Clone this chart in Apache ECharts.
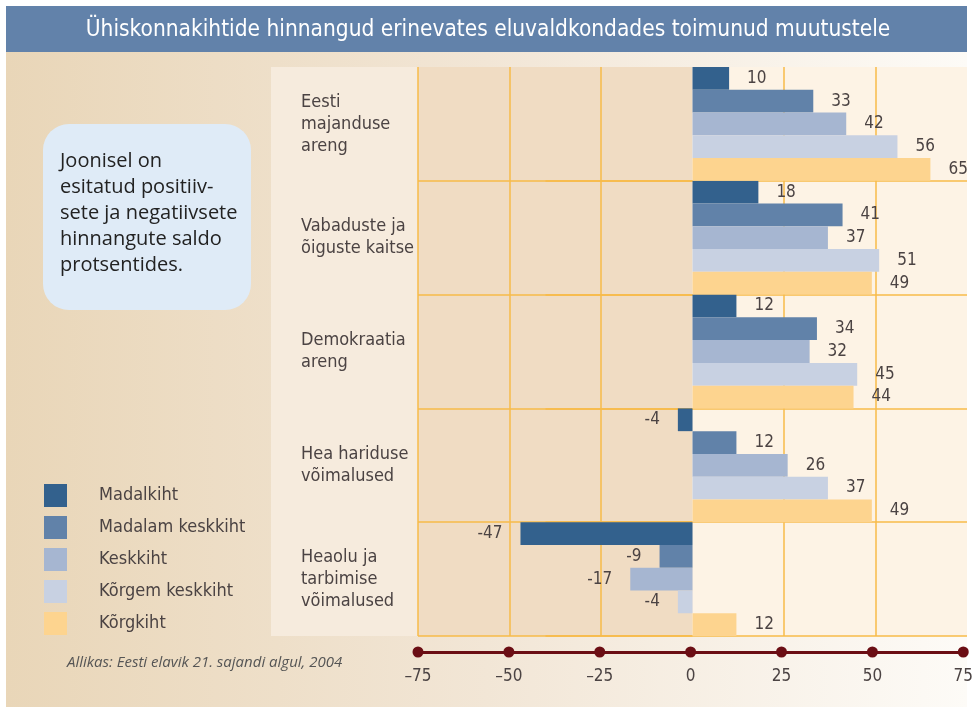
<!DOCTYPE html>
<html>
<head>
<meta charset="utf-8">
<script src="https://cdn.jsdelivr.net/npm/echarts@6/dist/echarts.min.js"></script>
<style>
  html, body { margin: 0; padding: 0; background: #fff; }
  #chart { width: 976px; height: 707px; }
</style>
</head>
<body>
<div id="chart"></div>
<script>
// valdkonnad (ülevalt alla)
const categories = [
  "Eesti\nmajanduse\nareng",
  "Vabaduste ja\nõiguste kaitse",
  "Demokraatia\nareng",
  "Hea hariduse\nvõimalused",
  "Heaolu ja\ntarbimise\nvõimalused"
];
// ühiskonnakihid
const groups = ["Madalkiht", "Madalam keskkiht", "Keskkiht", "Kõrgem keskkiht", "Kõrgkiht"];
const madalkiht = [10, 18, 12, -4, -47];
const madalamKeskkiht = [33, 41, 34, 12, -9];
const keskkiht = [42, 37, 32, 26, -17];
const korgemKeskkiht = [56, 51, 45, 37, -4];
const korgkiht = [65, 49, 44, 49, 12];
const axisTicks = [-75, -50, -25, 0, 25, 50, 75];

const colors = ["#33618d", "#6182a9", "#a6b6d1", "#c8d1e2", "#fdd48f"];
const condensed = "'Liberation Sans Narrow', 'DejaVu Sans Condensed', 'Roboto Condensed', sans-serif";
const textColor = "#4b4343";
const gridLine = "#f7bb48";

const chart = echarts.init(document.getElementById("chart"));

const makeSeries = (name, values, i) => ({
  name: name,
  type: "bar",
  z: 3,
  barGap: "0%",
  barCategoryGap: "0%",
  itemStyle: { color: colors[i] },
  label: {
    show: true,
    position: "right",
    distance: 18,
    color: textColor,
    fontSize: 17,
    fontFamily: condensed
  },
  data: values.map(v => (v < 0 ? { value: v, label: { position: "left" } } : v))
});

const allValues = [madalkiht, madalamKeskkiht, keskkiht, korgemKeskkiht, korgkiht];

const option = {
  backgroundColor: "#ffffff",
  animation: false,
  title: {
    text: "Ühiskonnakihtide hinnangud erinevates eluvaldkondades toimunud muutustele",
    left: "center",
    top: 14,
    textStyle: { color: "#ffffff", fontSize: 22.5, fontWeight: "normal", fontFamily: condensed }
  },
  graphic: [
    // taust
    {
      type: "rect", z: -10, silent: true,
      shape: { x: 6, y: 52, width: 961, height: 655 },
      style: {
        fill: new echarts.graphic.LinearGradient(0, 0, 1, 0, [
          { offset: 0, color: "#e9d6b8" },
          { offset: 0.5, color: "#f2e6d6" },
          { offset: 1, color: "#fdfbf7" }
        ])
      }
    },
    // pealkirja riba
    { type: "rect", z: -9, silent: true, shape: { x: 6, y: 6, width: 961, height: 46 }, style: { fill: "#6282aa" } },
    // kategooriate veerg
    { type: "rect", z: -9, silent: true, shape: { x: 271, y: 67, width: 147, height: 569 }, style: { fill: "#f6ebdd" } },
    // selgitus
    {
      type: "rect", z: -5, silent: true,
      shape: { x: 43, y: 124, width: 208, height: 186, r: 26 },
      style: { fill: "#dfebf7" }
    },
    {
      type: "text", z: -4, silent: true,
      left: 60, top: 148,
      style: {
        text: "Joonisel on\nesitatud positiiv-\nsete ja negatiivsete\nhinnangute saldo\nprotsentides.",
        fill: "#222222",
        font: "20px 'Open Sans', 'Noto Sans', sans-serif",
        lineHeight: 26
      }
    },
    {
      type: "text", z: -4, silent: true,
      left: 67, top: 655,
      style: {
        text: "Allikas: Eesti elavik 21. sajandi algul, 2004",
        fill: "#555555",
        font: "italic 15px 'Open Sans', 'Noto Sans', sans-serif"
      }
    }
  ],
  legend: {
    orient: "vertical",
    left: 44,
    top: 484,
    padding: 0,
    itemWidth: 23,
    itemHeight: 23,
    itemGap: 9,
    icon: "rect",
    data: groups,
    textStyle: { color: textColor, fontSize: 18, fontFamily: condensed, padding: [0, 0, 0, 27] }
  },
  grid: [
    { left: 418, right: 9, top: 67, height: 569 },
    { left: 418, right: 9, top: 651, height: 1 }
  ],
  xAxis: [
    {
      type: "value",
      gridIndex: 0,
      min: -75,
      max: 75,
      interval: 25,
      z: 2,
      axisLine: { show: false },
      axisTick: { show: false },
      axisLabel: { show: false },
      splitLine: {
        lineStyle: {
          width: 1.5,
          color: [gridLine, gridLine, gridLine, "rgba(0,0,0,0)", gridLine, gridLine, "rgba(0,0,0,0)"]
        }
      }
    },
    {
      type: "value",
      gridIndex: 1,
      min: -75,
      max: 75,
      interval: 25,
      position: "bottom",
      axisLine: { show: true, lineStyle: { color: "#6b0e14", width: 3 } },
      axisTick: { show: false },
      splitLine: { show: false },
      axisLabel: {
        margin: 16,
        color: textColor,
        fontSize: 17,
        fontFamily: condensed,
        formatter: v => (v < 0 ? "\u2013" + Math.abs(v) : String(v))
      }
    }
  ],
  yAxis: [
    {
      type: "category",
      gridIndex: 0,
      inverse: true,
      data: categories,
      z: 2,
      axisLine: { show: false },
      axisTick: {
        show: true,
        length: 147,
        interval: i => i > 0,
        lineStyle: { color: gridLine, width: 1.5 }
      },
      splitLine: {
        show: true,
        interval: i => i > 0,
        lineStyle: { color: gridLine, width: 1.5 }
      },
      axisLabel: {
        align: "left",
        margin: 117,
        color: textColor,
        fontSize: 18,
        lineHeight: 22,
        fontFamily: condensed
      }
    },
    { type: "value", gridIndex: 1, min: 0, max: 1, show: false }
  ],
  series: [
    // negatiivse ja positiivse poole taust
    {
      type: "scatter",
      z: 0,
      silent: true,
      data: [],
      markArea: {
        silent: true,
        data: [
          [{ xAxis: -75, itemStyle: { color: "#f0dcc3" } }, { xAxis: 0 }],
          [{ xAxis: 0, itemStyle: { color: "#fdf3e5" } }, { xAxis: 75 }]
        ]
      }
    },
    ...groups.map((g, i) => makeSeries(g, allValues[i], i)),
    // telje punktid
    {
      type: "scatter",
      xAxisIndex: 1,
      yAxisIndex: 1,
      symbolSize: 11,
      clip: false,
      z: 5,
      silent: true,
      itemStyle: { color: "#6b0e14", opacity: 1 },
      data: axisTicks.map(t => [t, 0])
    }
  ]
};

chart.setOption(option);
</script>
</body>
</html>
